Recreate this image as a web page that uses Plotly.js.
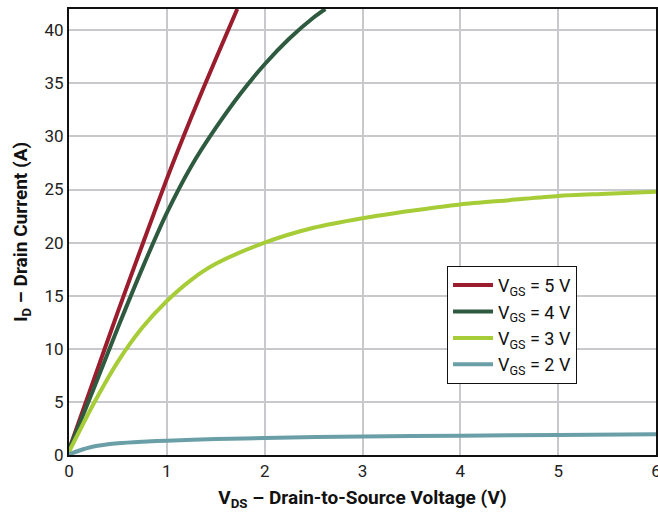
<!DOCTYPE html>
<html><head><meta charset="utf-8">
<script src="https://cdn.plot.ly/plotly-3.0.1.min.js"></script>
<style>html,body{margin:0;padding:0;background:#fff}#chart{width:658px;height:513px}</style>
</head><body><div id="chart"></div>
<script>
const vgsLabels = ["V<sub>GS</sub> = 5 V","V<sub>GS</sub> = 4 V","V<sub>GS</sub> = 3 V","V<sub>GS</sub> = 2 V"];
const x5 = [0, 0.25, 0.5, 0.75, 1.0, 1.25, 1.5, 1.72];
const y5 = [0.5, 7.0, 13.5, 19.8, 26.0, 31.8, 37.3, 42.0];
const x4 = [0, 0.25, 0.5, 0.75, 1.0, 1.25, 1.5, 1.75, 2.0, 2.25, 2.5, 2.62];
const y4 = [0.5, 6.2, 12.0, 17.6, 22.8, 27.2, 30.8, 34.0, 36.8, 39.2, 41.2, 42.0];
const x3 = [0, 0.25, 0.5, 0.75, 1.0, 1.25, 1.5, 2.0, 2.5, 3.0, 3.5, 4.0, 4.5, 5.0, 5.5, 6.0];
const y3 = [0.3, 4.8, 8.8, 12.0, 14.5, 16.5, 18.0, 20.0, 21.4, 22.3, 23.0, 23.6, 24.0, 24.4, 24.6, 24.8];
const x2 = [0, 0.1, 0.25, 0.5, 0.75, 1.0, 1.5, 2.0, 3.0, 4.0, 5.0, 6.0];
const y2 = [0.05, 0.4, 0.8, 1.1, 1.25, 1.35, 1.5, 1.6, 1.75, 1.82, 1.88, 1.95];
const colors = ["#9b1d2d","#2e5b40","#a6cc38","#6a9fa7"];

const font = "Liberation Sans Narrow, Roboto, sans-serif";
const xs=[x5,x4,x3,x2], ys=[y5,y4,y3,y2];
const traces = xs.map((x,i)=>({x:x,y:ys[i],type:'scatter',mode:'lines',name:vgsLabels[i],
  line:{color:colors[i],width:4,shape:'spline',smoothing:0.8},cliponaxis:true}));

Plotly.newPlot('chart',traces,{
  width:658,height:513,
  margin:{l:69,r:2,t:9,b:58},
  paper_bgcolor:'#fff',plot_bgcolor:'#fff',
  font:{family:font,size:16,color:'#222'},
  xaxis:{range:[0,6],dtick:1,tick0:0,showgrid:true,gridcolor:'#c9c9cd',gridwidth:2,
    zeroline:false,showline:true,linecolor:'#111',linewidth:2,mirror:true,ticks:'',
    ticklabeloverflow:'allow',
    tickfont:{size:17,color:'#222'},
    title:{text:'<b>V<sub>DS</sub> – Drain-to-Source Voltage (V)</b>',font:{size:19,color:'#111'},standoff:10}},
  yaxis:{range:[0,42],dtick:5,tick0:0,showgrid:true,gridcolor:'#c9c9cd',gridwidth:2,
    zeroline:false,showline:true,linecolor:'#111',linewidth:2,mirror:true,ticks:'',
    tickfont:{size:17,color:'#222'},
    title:{text:'<b>I<sub>D</sub> – Drain Current (A)</b>',font:{size:19,color:'#111'},standoff:12}},
  legend:{x:0.644,y:0.424,xanchor:'left',yanchor:'top',bgcolor:'#fff',bordercolor:'#111',borderwidth:1,
    font:{size:18,color:'#111'},tracegroupgap:0,itemwidth:40},
  showlegend:true
},{displayModeBar:false,staticPlot:true});
</script></body></html>
